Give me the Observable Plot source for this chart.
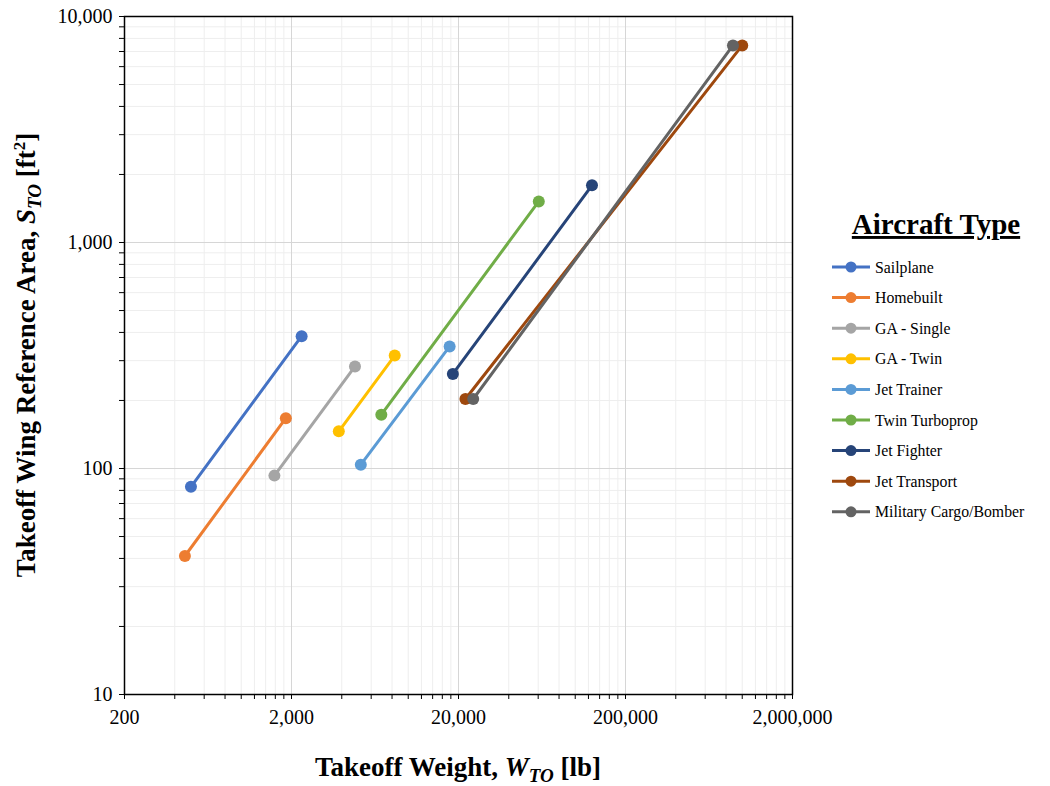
<!DOCTYPE html>
<html>
<head>
<meta charset="utf-8">
<script src="https://cdn.jsdelivr.net/npm/d3@7"></script>
<script src="https://cdn.jsdelivr.net/npm/@observablehq/plot@0.6"></script>
<style>
  html, body { margin: 0; padding: 0; background: #fff; }
  #chart { position: relative; width: 1050px; height: 786px; }
</style>
</head>
<body>
<div id="chart"></div>
<script>
// ---- Data ----
const types = ["Sailplane", "Homebuilt", "GA - Single", "GA - Twin", "Jet Trainer",
               "Twin Turboprop", "Jet Fighter", "Jet Transport", "Military Cargo/Bomber"];
const colors = ["#4472C4", "#ED7D31", "#A5A5A5", "#FFC000", "#5B9BD5",
                "#70AD47", "#264478", "#9E480E", "#636363"];
// start / end takeoff weight [lb]
const wStart = [500, 460, 1580, 3840, 5200, 6900, 18500, 22000, 24500];
const wEnd   = [2300, 1850, 4800, 8300, 17700, 60500, 126000, 1000000, 880000];
// start / end wing reference area [ft^2]
const sStart = [83, 41, 93, 146, 104, 173, 262, 203, 203];
const sEnd   = [385, 167, 283, 316, 347, 1520, 1790, 7450, 7450];

const xMajor = [200, 2000, 20000, 200000, 2000000];
const yMajor = [10, 100, 1000, 10000];

// ---- Build table ----
const data = types.flatMap((t, i) => [
  {type: t, W: wStart[i], S: sStart[i]},
  {type: t, W: wEnd[i], S: sEnd[i]}
]);
const xAll = xMajor.slice(0, -1).flatMap(m => d3.range(1, 10).map(k => m * k)).concat([xMajor[xMajor.length - 1]]);
const yAll = yMajor.slice(0, -1).flatMap(m => d3.range(1, 10).map(k => m * k)).concat([yMajor[yMajor.length - 1]]);
const xMinor = xAll.filter(v => !xMajor.includes(v));
const yMinor = yAll.filter(v => !yMajor.includes(v));
const fmt = d3.format(",");

const FONT = "'Liberation Serif', 'Times New Roman', serif";

const chart = Plot.plot({
  width: 1050,
  height: 786,
  marginLeft: 124,
  marginRight: 258,
  marginTop: 16,
  marginBottom: 92,
  style: {fontFamily: FONT, fontSize: "18px", color: "#000", background: "#fff"},
  x: {type: "log", domain: [200, 2000000]},
  y: {type: "log", domain: [10, 10000]},
  color: {domain: types, range: colors},
  marks: [
    Plot.gridX(xMinor, {stroke: "#eeeeee", strokeOpacity: 1, strokeWidth: 1}),
    Plot.gridY(yMinor, {stroke: "#eeeeee", strokeOpacity: 1, strokeWidth: 1}),
    Plot.gridX(xMajor, {stroke: "#d6d6d6", strokeOpacity: 1, strokeWidth: 1}),
    Plot.gridY(yMajor, {stroke: "#d6d6d6", strokeOpacity: 1, strokeWidth: 1}),
    Plot.axisX(xAll, {
      tickFormat: d => xMajor.includes(d) ? fmt(d) : "",
      tickSize: 5, tickPadding: 10, label: null, fontSize: 20, stroke: "#000"
    }),
    Plot.axisY(yAll, {
      tickFormat: d => yMajor.includes(d) ? fmt(d) : "",
      tickSize: 5, tickPadding: 7, label: null, fontSize: 20, stroke: "#000"
    }),
    Plot.line(data, {x: "W", y: "S", z: "type", stroke: "type", strokeWidth: 3}),
    Plot.dot(data, {x: "W", y: "S", fill: "type", r: 6}),
    Plot.frame({stroke: "#000", strokeWidth: 1.5})
  ]
});

document.getElementById("chart").appendChild(chart);

// ---- Axis titles with italic / subscript parts ----
const svg = d3.select(chart);
const xt = svg.append("text")
  .attr("x", 458).attr("y", 776)
  .attr("text-anchor", "middle")
  .attr("font-family", FONT).attr("font-size", 27).attr("font-weight", "bold").attr("fill", "#000");
xt.append("tspan").text("Takeoff Weight, ");
xt.append("tspan").attr("font-style", "italic").text("W");
xt.append("tspan").attr("font-style", "italic").attr("font-size", 19).attr("dy", 6).text("TO");
xt.append("tspan").attr("dy", -6).text(" [lb]");

const yt = svg.append("text")
  .attr("transform", "translate(35,355) rotate(-90)")
  .attr("text-anchor", "middle")
  .attr("font-family", FONT).attr("font-size", 27).attr("font-weight", "bold").attr("fill", "#000");
yt.append("tspan").text("Takeoff Wing Reference Area, ");
yt.append("tspan").attr("font-style", "italic").text("S");
yt.append("tspan").attr("font-style", "italic").attr("font-size", 19).attr("dy", 6).text("TO");
yt.append("tspan").attr("dy", -6).text(" [ft");
yt.append("tspan").attr("font-size", 17).attr("dy", -10).text("2");
yt.append("tspan").attr("dy", 10).text("]");

// ---- Legend ----
const lg = svg.append("g").attr("font-family", FONT).attr("fill", "#000").attr("text-anchor", "start");
lg.append("text")
  .attr("x", 936).attr("y", 234)
  .attr("text-anchor", "middle")
  .attr("font-size", 29).attr("font-weight", "bold")
  .attr("text-decoration", "underline")
  .text("Aircraft Type");
types.forEach((t, i) => {
  const y = 267 + i * 30.6;
  lg.append("line").attr("x1", 832).attr("x2", 870).attr("y1", y).attr("y2", y)
    .attr("stroke", colors[i]).attr("stroke-width", 3);
  lg.append("circle").attr("cx", 851).attr("cy", y).attr("r", 5.5).attr("fill", colors[i]);
  lg.append("text").attr("x", 875).attr("y", y + 5.5).attr("font-size", 15.8)
    .attr("text-anchor", "start").text(t);
});
</script>
</body>
</html>
